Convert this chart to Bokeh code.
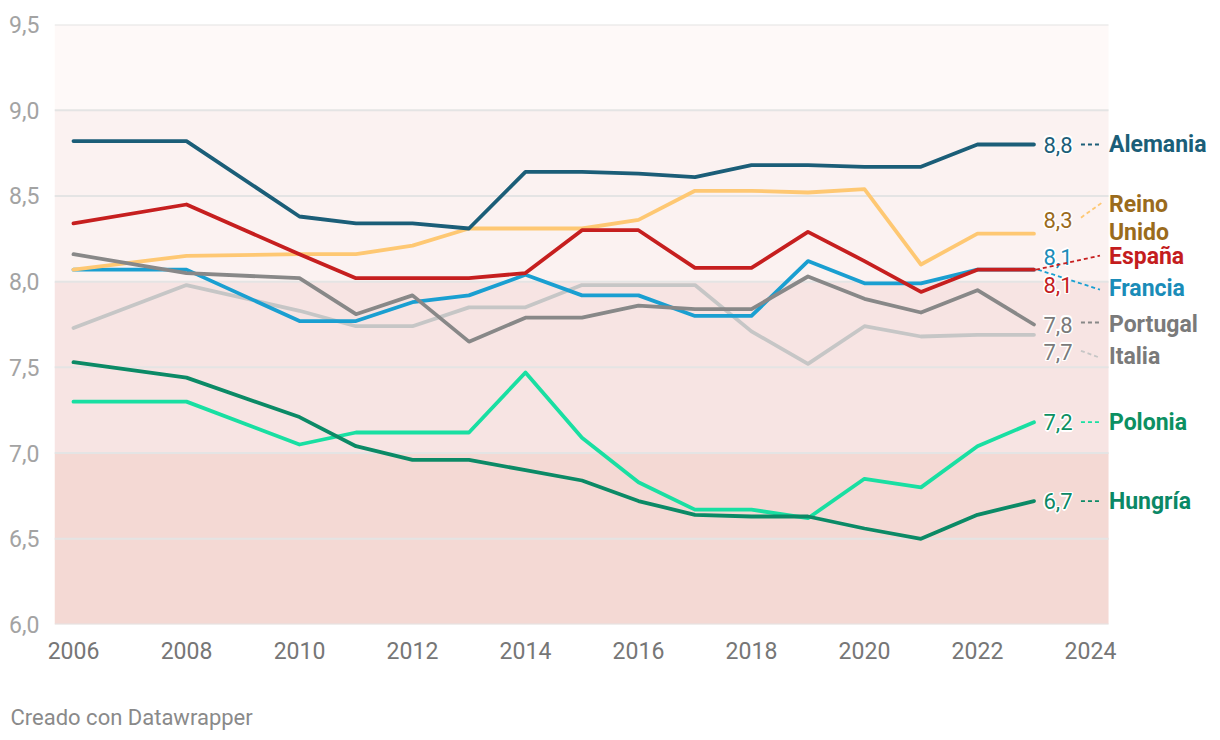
from bokeh.plotting import figure
from bokeh.models import FixedTicker, Range1d, Title
from bokeh.core.properties import value
from bokeh.embed import file_html
from bokeh.resources import INLINE

# ---------------- data ----------------
years = [2006, 2008, 2010, 2011, 2012, 2013, 2014, 2015, 2016, 2017, 2018, 2019, 2020, 2021, 2022, 2023]

alemania = [8.82, 8.82, 8.38, 8.34, 8.34, 8.31, 8.64, 8.64, 8.63, 8.61, 8.68, 8.68, 8.67, 8.67, 8.80, 8.80]
reino_unido = [8.07, 8.15, 8.16, 8.16, 8.21, 8.31, 8.31, 8.31, 8.36, 8.53, 8.53, 8.52, 8.54, 8.10, 8.28, 8.28]
espana = [8.34, 8.45, 8.16, 8.02, 8.02, 8.02, 8.05, 8.30, 8.30, 8.08, 8.08, 8.29, 8.12, 7.94, 8.07, 8.07]
francia = [8.07, 8.07, 7.77, 7.77, 7.88, 7.92, 8.04, 7.92, 7.92, 7.80, 7.80, 8.12, 7.99, 7.99, 8.07, 8.07]
portugal = [8.16, 8.05, 8.02, 7.81, 7.92, 7.65, 7.79, 7.79, 7.86, 7.84, 7.84, 8.03, 7.90, 7.82, 7.95, 7.75]
italia = [7.73, 7.98, 7.83, 7.74, 7.74, 7.85, 7.85, 7.98, 7.98, 7.98, 7.71, 7.52, 7.74, 7.68, 7.69, 7.69]
polonia = [7.30, 7.30, 7.05, 7.12, 7.12, 7.12, 7.47, 7.09, 6.83, 6.67, 6.67, 6.62, 6.85, 6.80, 7.04, 7.18]
hungria = [7.53, 7.44, 7.21, 7.04, 6.96, 6.96, 6.90, 6.84, 6.72, 6.64, 6.63, 6.63, 6.56, 6.50, 6.64, 6.72]

x_ticks = [2006, 2008, 2010, 2012, 2014, 2016, 2018, 2020, 2022, 2024]
y_ticks = [6.0, 6.5, 7.0, 7.5, 8.0, 8.5, 9.0, 9.5]
y_tick_labels = ["6,0", "6,5", "7,0", "7,5", "8,0", "8,5", "9,0", "9,5"]

# ---------------- style ----------------
FONT = "Roboto"
W, H = 1212, 732
LEFT, TOP, BOTTOM = 54, 24, 108
X0, X1 = 2005.664, 2026.16
Y0, Y1 = 6.0, 9.5
PX_X = (W - LEFT) / (X1 - X0)
PX_Y = (H - TOP - BOTTOM) / (Y1 - Y0)
BAND_RIGHT = 2024.32

# series: name label, values, line color, text color, value dy, name dy, connector (dx0, dy0, dx1, dy1) in px (up positive)
series = [
    ("Italia", italia, "#c6c6c6", "#7a7a7a", -17, -22, (47, -16, 66, -23)),
    ("Polonia", polonia, "#19dfa2", "#0c9062", 0, 0, (47, 0, 66, 0)),
    ("Hungría", hungria, "#0b8a66", "#0b8866", 0, 0, (47, 0, 66, 0)),
    ("Francia", francia, "#1a9fd1", "#1a8cb8", 13, -19, (4, 0, 66, -20)),
    ("Reino\nUnido", reino_unido, "#fec873", "#9a6b1c", 14, 15, (47, 16, 68, 31)),
    ("Portugal", portugal, "#888888", "#7a7a7a", 0, 0, (47, 2, 66, 2)),
    ("España", espana, "#c61f1f", "#c41d1e", -15, 13, (2, 0, 66, 14)),
    ("Alemania", alemania, "#1b5e78", "#1b5e78", 0, 0, (47, 0, 66, 0)),
]

p = figure(width=W, height=H, output_backend="svg", toolbar_location=None,
           x_range=Range1d(X0, X1), y_range=Range1d(Y0, Y1),
           min_border_left=LEFT, min_border_top=TOP, min_border_bottom=BOTTOM,
           min_border_right=0, title=None)
p.outline_line_color = None
p.background_fill_color = "white"
p.border_fill_color = "white"
p.xgrid.visible = False
p.ygrid.visible = False

# background bands
p.quad(left=X0, right=BAND_RIGHT, bottom=[6.0, 7.0, 8.0, 9.0], top=[7.0, 8.0, 9.0, 9.5],
       fill_color=["#f4d9d4", "#f7e4e3", "#fbf2f1", "#fef9f8"], line_color=None)

# grid lines
p.segment(x0=X0, x1=BAND_RIGHT, y0=y_ticks, y1=y_ticks, line_color="#e4e4e4", line_width=2)

# axes
p.xaxis.ticker = FixedTicker(ticks=x_ticks)
p.yaxis.ticker = FixedTicker(ticks=y_ticks)
p.yaxis.major_label_overrides = {t: l for t, l in zip(y_ticks, y_tick_labels)}
for ax in (p.xaxis[0], p.yaxis[0]):
    ax.axis_line_color = None
    ax.major_tick_line_color = None
    ax.minor_tick_line_color = None
    ax.major_label_text_font = FONT
    ax.major_label_text_font_size = "23px"
p.xaxis.major_label_text_color = "#767676"
p.yaxis.major_label_text_color = "#a3a3a3"
p.xaxis.major_label_standoff = 11
p.yaxis.major_label_standoff = 9

last_x = years[-1]
halo = [(-1.5, 0), (1.5, 0), (0, -1.5), (0, 1.5), (-1.1, -1.1), (1.1, 1.1), (-1.1, 1.1), (1.1, -1.1)]

for name, vals, lc, tc, vdy, ndy, conn in series:
    p.line(years, vals, line_color=lc, line_width=3.8, line_join="round", line_cap="round")

for name, vals, lc, tc, vdy, ndy, conn in series:
    last_y = vals[-1]
    dx0, dy0, dx1, dy1 = conn
    p.segment(x0=last_x + dx0 / PX_X, y0=last_y + dy0 / PX_Y,
              x1=last_x + dx1 / PX_X, y1=last_y + dy1 / PX_Y,
              line_color=lc, line_width=1.8, line_dash="4 3")
    txt = f"{last_y:.1f}".replace(".", ",")
    for ox, oy in halo:
        p.text(x=[last_x], y=[last_y], text=[txt], x_offset=9.5 + ox, y_offset=-vdy + oy,
               text_font=value(FONT), text_font_size="22px", text_color="white",
               text_baseline="middle", text_align="left")
    p.text(x=[last_x], y=[last_y], text=[txt], x_offset=9.5, y_offset=-vdy,
           text_font=value(FONT), text_font_size="22px", text_color=tc,
           text_baseline="middle", text_align="left")
    p.text(x=[last_x], y=[last_y], text=[name], x_offset=75, y_offset=-ndy,
           text_font=value(FONT), text_font_size="23px", text_font_style="bold",
           text_color=tc, text_baseline="middle", text_align="left", text_line_height=1.05)

# spacer below the x axis, then the credit line
p.add_layout(Title(text=" ", align="left", standoff=15, text_font=FONT, text_font_size="20px",
                   text_color="white"), "below")
p.add_layout(Title(text="Creado con Datawrapper", align="left", offset=-44, standoff=0,
                   text_font=FONT, text_font_size="22px", text_color="#8a8a8a",
                   text_font_style="normal"), "below")

open("out.html", "w").write(file_html(p, INLINE))
